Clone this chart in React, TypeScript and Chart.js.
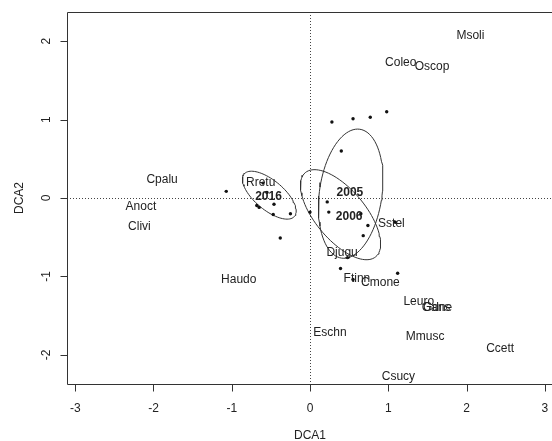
import React, { useEffect, useRef } from 'react';
import { Chart, registerables } from 'chart.js';

Chart.register(...registerables);

// Axis ranges and ticks
const xRange = [-3.105, 3.105];
const yRange = [-2.372, 2.372];
const tickStep = 1;

// Site scores (dots)
const siteX = [0.28, 0.55, 0.77, 0.98, 0.40, 0.22, 0.00, 0.24, 0.65, 0.74, 1.09, 0.68, 0.48, 0.39, 1.12, 0.55, -0.68, -0.65, -0.46, -0.47, -0.25, -0.55, -0.60, -1.07, -0.38];
const siteY = [0.97, 1.01, 1.03, 1.10, 0.60, -0.05, -0.18, -0.18, -0.20, -0.35, -0.31, -0.48, -0.76, -0.90, -0.96, -1.04, -0.095, -0.12, -0.08, -0.21, -0.20, 0.07, 0.19, 0.085, -0.51];

// Species labels
const speciesNames = ['Msoli', 'Coleo', 'Oscop', 'Cpalu', 'Anoct', 'Clivi', 'Haudo', 'Rretu', 'Sstel', 'Djugu', 'Ftinn', 'Cmone', 'Leuro', 'Gans', 'Gdne', 'Eschn', 'Mmusc', 'Ccett', 'Csucy'];
const speciesX = [2.05, 1.16, 1.56, -1.89, -2.16, -2.18, -0.91, -0.63, 1.04, 0.41, 0.60, 0.90, 1.39, 1.61, 1.63, 0.255, 1.47, 2.43, 1.13];
const speciesY = [2.07, 1.72, 1.68, 0.23, -0.115, -0.36, -1.04, 0.20, -0.33, -0.70, -1.03, -1.08, -1.32, -1.40, -1.40, -1.72, -1.77, -1.92, -2.28];

// Group (year) labels
const yearNames = ['2005', '2006', '2016'];
const yearX = [0.51, 0.50, -0.53];
const yearY = [0.064, -0.24, 0.02];

// Group ellipses (centre, semi-axes, rotation in degrees)
const ellipseCx = [0.52, 0.39, -0.52];
const ellipseCy = [0.055, -0.213, 0.036];
const ellipseA = [0.83, 0.70, 0.42];
const ellipseB = [0.40, 0.32, 0.187];
const ellipseAngle = [82, -50, -40];

const FONT = "'Liberation Sans', Arial, Helvetica, sans-serif";
const INK = '#222';
const LINE = '#333';
const TICK_LEN = 7;

function ellipsePath(i: number) {
  const pts: { x: number; y: number }[] = [];
  const th = (ellipseAngle[i] * Math.PI) / 180;
  const n = 90;
  for (let k = 0; k <= n; k++) {
    const t = (2 * Math.PI * k) / n;
    const ca = ellipseA[i] * Math.cos(t);
    const sb = ellipseB[i] * Math.sin(t);
    pts.push({
      x: ellipseCx[i] + ca * Math.cos(th) - sb * Math.sin(th),
      y: ellipseCy[i] + ca * Math.sin(th) + sb * Math.cos(th),
    });
  }
  return pts;
}

const overlayPlugin = {
  id: 'overlay',
  beforeDatasetsDraw(chart: any) {
    const { ctx, chartArea, scales } = chart;
    const x0 = scales.x.getPixelForValue(0);
    const y0 = scales.y.getPixelForValue(0);
    ctx.save();
    ctx.strokeStyle = '#444';
    ctx.lineWidth = 1;
    ctx.setLineDash([1, 2]);
    ctx.beginPath();
    ctx.moveTo(Math.round(x0) + 0.5, chartArea.top);
    ctx.lineTo(Math.round(x0) + 0.5, chartArea.bottom);
    ctx.moveTo(chartArea.left, Math.round(y0) + 0.5);
    ctx.lineTo(chartArea.right, Math.round(y0) + 0.5);
    ctx.stroke();
    ctx.restore();
  },
  afterDatasetsDraw(chart: any) {
    const { ctx, chartArea, scales } = chart;
    ctx.save();
    // box: top, left, bottom (right edge lies outside the picture)
    const l = Math.round(chartArea.left) + 0.5;
    const t = Math.round(chartArea.top) + 0.5;
    const b = Math.round(chartArea.bottom) + 0.5;
    ctx.strokeStyle = LINE;
    ctx.lineWidth = 1;
    ctx.beginPath();
    ctx.moveTo(chartArea.right + 2, t);
    ctx.lineTo(l, t);
    ctx.lineTo(l, b);
    ctx.lineTo(chartArea.right + 2, b);
    // tick marks from the scales' own ticks
    scales.x.ticks.forEach((tk: any) => {
      const px = Math.round(scales.x.getPixelForValue(tk.value)) + 0.5;
      ctx.moveTo(px, b);
      ctx.lineTo(px, b + TICK_LEN);
    });
    scales.y.ticks.forEach((tk: any) => {
      const py = Math.round(scales.y.getPixelForValue(tk.value)) + 0.5;
      ctx.moveTo(l, py);
      ctx.lineTo(l - TICK_LEN, py);
    });
    ctx.stroke();
    ctx.fillStyle = INK;
    ctx.textAlign = 'center';
    ctx.textBaseline = 'middle';
    ctx.font = `12px ${FONT}`;
    speciesNames.forEach((s, i) => {
      ctx.fillText(s, scales.x.getPixelForValue(speciesX[i]), scales.y.getPixelForValue(speciesY[i]));
    });
    ctx.font = `bold 12px ${FONT}`;
    yearNames.forEach((s, i) => {
      ctx.fillText(s, scales.x.getPixelForValue(yearX[i]), scales.y.getPixelForValue(yearY[i]));
    });
    ctx.restore();
  },
};

export default function App() {
  const ref = useRef<HTMLCanvasElement | null>(null);
  useEffect(() => {
    if (!ref.current) return;
    const ellipseSets = ellipseCx.map((_, i) => ({
      type: 'line' as const,
      data: ellipsePath(i),
      borderColor: LINE,
      borderWidth: 1,
      pointRadius: 0,
      fill: false,
      showLine: true,
      tension: 0,
    }));
    const chart = new Chart(ref.current, {
      type: 'scatter',
      data: {
        datasets: [
          {
            data: siteX.map((x, i) => ({ x, y: siteY[i] })),
            backgroundColor: '#111',
            borderColor: '#111',
            pointRadius: 1.7,
            borderWidth: 0,
          },
          ...(ellipseSets as any[]),
        ],
      },
      options: {
        responsive: false,
        animation: false,
        events: [],
        layout: { padding: { top: 12, right: 0, bottom: 0, left: 0 } },
        plugins: { legend: { display: false }, tooltip: { enabled: false } },
        scales: {
          x: {
            type: 'linear',
            min: xRange[0],
            max: xRange[1],
            afterFit: (s: any) => { s.height = 57; s.paddingLeft = 0; s.paddingRight = 0; },
            ticks: { stepSize: tickStep, includeBounds: false, padding: 9, color: INK, font: { family: FONT, size: 12 }, maxRotation: 0 },
            grid: { display: false },
            border: { display: false },
            title: { display: true, text: 'DCA1', color: INK, font: { family: FONT, size: 12, lineHeight: 1 }, padding: { top: 0, bottom: -1 } },
          },
          y: {
            type: 'linear',
            min: yRange[0],
            max: yRange[1],
            afterFit: (s: any) => { s.width = 67; s.paddingTop = 0; s.paddingBottom = 0; },
            ticks: { stepSize: tickStep, includeBounds: false, padding: 7, color: INK, font: { family: FONT, size: 12 }, minRotation: 90, maxRotation: 90, crossAlign: 'center' },
            grid: { display: false },
            border: { display: false },
            title: { display: true, text: 'DCA2', color: INK, font: { family: FONT, size: 12 }, padding: { top: 12, bottom: 0 } },
          },
        },
      },
      plugins: [overlayPlugin],
    });
    return () => chart.destroy();
  }, []);
  return (
    <div style={{ position: 'fixed', left: 0, top: 0, width: 552, height: 441, overflow: 'hidden', background: '#fff' }}>
      <canvas ref={ref} width={557} height={441} style={{ display: 'block' }} />
    </div>
  );
}
